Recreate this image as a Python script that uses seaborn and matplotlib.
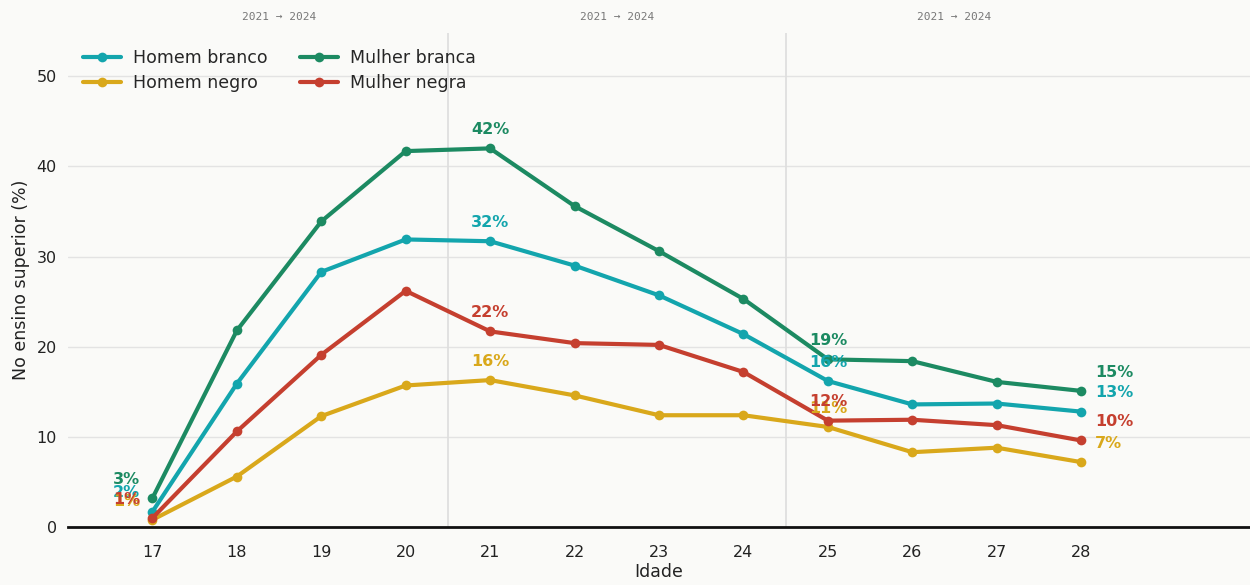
import numpy as np
import pandas as pd
import matplotlib
matplotlib.use("Agg")
import matplotlib.pyplot as plt
import matplotlib.transforms as mtransforms
import seaborn as sns

# Data
ages = [17, 18, 19, 20, 21, 22, 23, 24, 25, 26, 27, 28]
homem_branco = [1.7, 15.9, 28.3, 31.9, 31.7, 29.0, 25.7, 21.4, 16.2, 13.6, 13.7, 12.8]
homem_negro = [0.8, 5.6, 12.3, 15.7, 16.3, 14.6, 12.4, 12.4, 11.1, 8.3, 8.8, 7.2]
mulher_branca = [3.2, 21.8, 33.9, 41.7, 42.0, 35.6, 30.6, 25.3, 18.6, 18.4, 16.1, 15.1]
mulher_negra = [1.0, 10.6, 19.1, 26.2, 21.7, 20.4, 20.2, 17.2, 11.8, 11.9, 11.3, 9.6]

series_names = ["Homem branco", "Homem negro", "Mulher branca", "Mulher negra"]
series_values = [homem_branco, homem_negro, mulher_branca, mulher_negra]
colors = ["#13a5ad", "#d9a81b", "#1c8a62", "#c53f2f"]

label_ages = [17, 21, 25, 28]
period_label = "2021 \u2192 2024"
period_centers = [18.5, 22.5, 26.5]
dividers = [20.5, 24.5]

bg = "#fafaf8"

df = pd.DataFrame({
    "Idade": ages * len(series_names),
    "valor": sum(series_values, []),
    "grupo": np.repeat(series_names, len(ages)),
})

sns.set_style("white")
plt.rcParams["font.family"] = ["DejaVu Sans"]

fig = plt.figure(figsize=(12.5, 5.85), dpi=100, facecolor=bg)
ax = fig.add_axes([0.0544, 0.0991, 0.9456, 0.8445])
ax.set_facecolor(bg)

sns.lineplot(data=df, x="Idade", y="valor", hue="grupo", hue_order=series_names,
             palette=dict(zip(series_names, colors)), marker="o", markersize=7,
             markeredgewidth=0, linewidth=3, ax=ax, zorder=3)

# value labels
for name, vals, c in zip(series_names, series_values, colors):
    for a in label_ages:
        v = vals[ages.index(a)]
        if a == ages[0]:
            dx, ha = -9, "right"
        elif a == ages[-1]:
            dx, ha = 10, "left"
        else:
            dx, ha = 0, "center"
        ax.annotate(f"{v:.0f}%", (a, v), xytext=(dx, 13.5), textcoords="offset points",
                    ha=ha, va="center", fontsize=11.5, fontweight="bold", color=c, zorder=4)

for d in dividers:
    ax.axvline(d, color="#dddddd", linewidth=1.2, zorder=1)

trans = mtransforms.blended_transform_factory(ax.transData, ax.transAxes)
for xc in period_centers:
    ax.text(xc, 1.032, period_label, transform=trans, ha="center", va="center",
            fontsize=8, color="#777777", family="DejaVu Sans Mono")

ax.set_xlim(16, 30)
ax.set_ylim(0, 54.8)
ax.set_xticks(ages)
ax.set_yticks(range(0, 51, 10))
ax.yaxis.grid(True, color="#e3e3e3", linewidth=1)
ax.set_axisbelow(True)
for s in ["top", "right", "left"]:
    ax.spines[s].set_visible(False)
ax.spines["bottom"].set_color("#111111")
ax.spines["bottom"].set_linewidth(2)
ax.tick_params(axis="x", length=7, width=1.5, color="#333333", pad=6, labelsize=11.5, labelcolor="#222222")
ax.tick_params(axis="y", length=0, pad=8, labelsize=11.5, labelcolor="#222222")
ax.set_xlabel("Idade", fontsize=12.5, color="#222222", labelpad=2)
ax.set_ylabel("No ensino superior (%)", fontsize=12.5, color="#222222", labelpad=5)

handles, labels = ax.get_legend_handles_labels()
ax.legend(handles, labels, ncol=2, loc="upper left", bbox_to_anchor=(0.002, 0.993),
          frameon=False, fontsize=12.5, handlelength=2.2, handletextpad=0.7,
          columnspacing=1.85, labelspacing=0.45, borderaxespad=0.3, title=None)

fig.savefig("out.png", dpi=100, facecolor=bg)
